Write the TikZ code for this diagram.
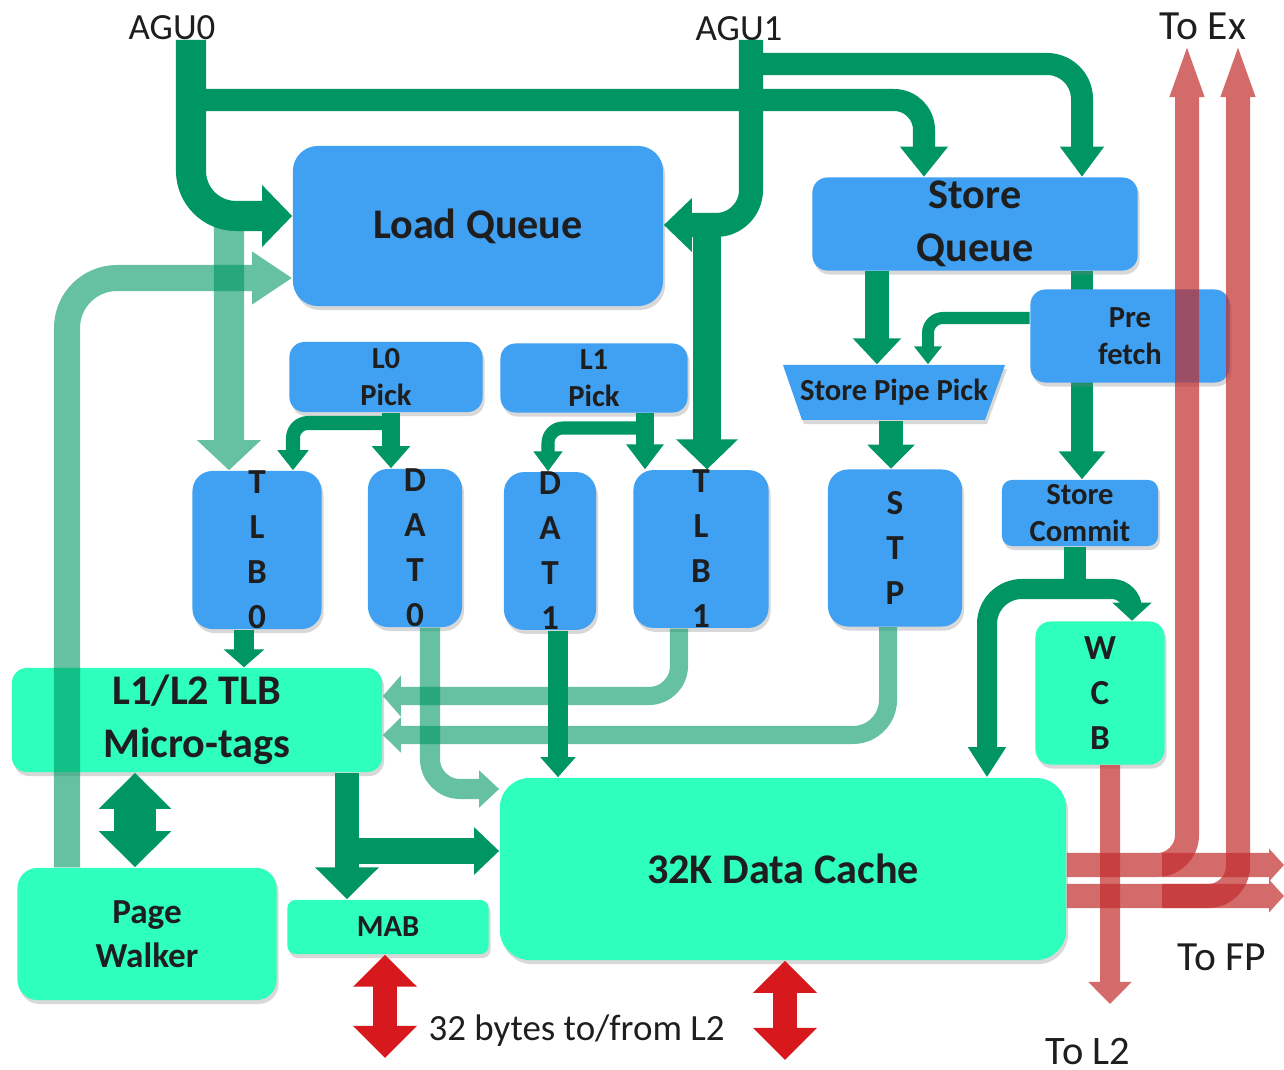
\documentclass[tikz,border=0pt]{standalone}
\usepackage{fontspec}
\setmainfont{Carlito}
\usetikzlibrary{arrows.meta, shadows, backgrounds}

\definecolor{unitblue}{RGB}{64,160,242}
\definecolor{unitteal}{RGB}{46,255,188}
\definecolor{flowgreen}{RGB}{0,150,100}
\definecolor{outred}{RGB}{195,45,45}
\definecolor{busred}{RGB}{215,25,30}
\definecolor{inkgray}{RGB}{30,30,30}

\tikzstyle{bluebox} = [rectangle, rounded corners=0.15cm, fill=unitblue, text=inkgray, align=center, inner sep=0pt, drop shadow={opacity=0.3, shadow xshift=0.02cm, shadow yshift=-0.04cm}]
\tikzstyle{tealbox} = [bluebox, fill=unitteal]
\tikzstyle{bigtext} = [font=\bfseries\fontsize{12}{15}\selectfont]
\tikzstyle{midtext} = [font=\bfseries\fontsize{10}{12.6}\selectfont]
\tikzstyle{lettertext} = [font=\bfseries\fontsize{10}{12.8}\selectfont]
\tikzstyle{smalltext} = [font=\bfseries\fontsize{8.7}{10.4}\selectfont]
\tikzstyle{iolabel} = [anchor=base, inner sep=0pt, text=inkgray, font=\fontsize{10.5}{12}\selectfont]
\tikzstyle{flow} = [draw=flowgreen, rounded corners=0.35cm]
\tikzstyle{outflow} = [draw=outred, rounded corners=0.3cm]
\tikzstyle{fadegroup} = [transparency group, opacity=0.6]
\tikzstyle{redgroup} = [transparency group, opacity=0.7]
\tikzset{tipsize/.style 2 args={-{Triangle[width=#1,length=#2]}}}
\tikzset{bothtips/.style 2 args={{Triangle[width=#1,length=#2]}-{Triangle[width=#1,length=#2]}}}

\begin{document}
\begin{tikzpicture}[x=0.01cm, y=-0.01cm]
\useasboundingbox (0,0) rectangle (1284,1070);
\begin{scope}[on background layer]
\fill[white] (0,0) rectangle (1284,1070);
\end{scope}

% Labels
\node[iolabel] (agu0) at (172,40) {AGU0};
\node[iolabel] (agu1) at (739,41) {AGU1};
\node[iolabel, font=\fontsize{11.8}{14}\selectfont] (toex) at (1203,40) {To Ex};
\node[iolabel, font=\fontsize{11.8}{14}\selectfont] (tofp) at (1222,970) {To FP};
\node[iolabel, font=\fontsize{11.5}{14}\selectfont] (tol2) at (1088,1064) {To L2};
\node[iolabel, anchor=base west] (bytes) at (428,1040) {32 bytes to/from L2};

% Load side
\node[bluebox, bigtext, rounded corners=0.25cm, minimum width=3.70cm, minimum height=1.60cm] (lq) at (478,226) {Load Queue};
\node[bluebox, smalltext, minimum width=1.93cm, minimum height=0.70cm] (lzp) at (386,377) {L0\\Pick};
\node[bluebox, smalltext, minimum width=1.87cm, minimum height=0.69cm] (lop) at (594,378) {L1\\Pick};
\node[bluebox, lettertext, rounded corners=0.2cm, minimum width=1.29cm, minimum height=1.57cm] (tlbz) at (257,550) {T\\L\\B\\0};
\node[bluebox, lettertext, rounded corners=0.2cm, minimum width=0.94cm, minimum height=1.58cm] (datz) at (415,548) {D\\A\\T\\0};
\node[bluebox, lettertext, rounded corners=0.2cm, minimum width=0.92cm, minimum height=1.55cm] (dato) at (550,551) {D\\A\\T\\1};
\node[bluebox, lettertext, rounded corners=0.2cm, minimum width=1.35cm, minimum height=1.57cm] (tlbo) at (701,549) {T\\L\\B\\1};

% Store side
\node[bluebox, bigtext, minimum width=3.25cm, minimum height=0.93cm] (sq) at (975,224) {Store\\Queue};
\node[bluebox, smalltext, rounded corners=0.1cm, minimum width=1.56cm, minimum height=0.66cm] (sc) at (1080,513) {Store\\Commit};
\begin{scope}[on background layer]
\draw[flow, line width=0.22cm, tipsize={0.45cm}{0.28cm}] (sq.south -| 1082,0) -- (sc.north -| 1082,0);
\end{scope}
\node[bluebox, smalltext, minimum width=1.99cm, minimum height=0.93cm] (pf) at (1130,336) {Pre\\fetch};
\fill[unitblue, drop shadow={opacity=0.3, shadow xshift=0.02cm, shadow yshift=-0.04cm}] (783,365) -- (1005,365) -- (985,420) -- (802,420) -- cycle;
\node[smalltext, text=inkgray, inner sep=0pt, minimum width=1.9cm, minimum height=0.55cm] (spp) at (894,392.5) {Store Pipe Pick};
\node[bluebox, lettertext, rounded corners=0.2cm, minimum width=1.34cm, minimum height=1.57cm] (stp) at (895,548) {S\\T\\P};
\node[tealbox, lettertext, minimum width=1.29cm, minimum height=1.43cm] (wcb) at (1100,693) {W\\C\\B};

% Lower blocks
\node[tealbox, bigtext, minimum width=3.70cm, minimum height=1.04cm] (mtag) at (197,720) {L1/L2 TLB\\Micro-tags};
\node[tealbox, midtext, rounded corners=0.2cm, minimum width=2.59cm, minimum height=1.32cm] (pw) at (147,934) {Page\\Walker};
\node[tealbox, smalltext, rounded corners=0.08cm, minimum width=2.01cm, minimum height=0.54cm] (mab) at (388,927) {MAB};
\node[tealbox, bigtext, rounded corners=0.3cm, minimum width=5.66cm, minimum height=1.82cm] (dc) at (783,869) {32K Data Cache};

% Free ends
\coordinate (a0top) at (191,40);
\coordinate (a1top) at (751,40);
\coordinate (lzpfork) at (391,423);
\coordinate (lopfork) at (645,428);
\coordinate (scfork) at (1075,589);
\coordinate (mtagfork) at (347,851);
\coordinate (fpforkA) at (1162,865);
\coordinate (fpforkB) at (1162,896);
\coordinate (exA) at (1187,42);
\coordinate (exB) at (1238,42);
\coordinate (fpA) at (1284,865);
\coordinate (fpB) at (1284,896);
\coordinate (l2out) at (1110,1004);
\coordinate (mabbus) at (385,1058);
\coordinate (dcbus) at (785,1060);

% AGU paths
\draw[flow, line width=0.30cm, tipsize={0.60cm}{0.30cm}, rounded corners=0.45cm] (a0top) |- (lq.west |- 0,216);
\draw[flow, line width=0.22cm, tipsize={0.46cm}{0.30cm}, rounded corners=0.3cm] (a0top |- 0,100) -| (sq.north -| 924,0);
\draw[flow, line width=0.24cm, tipsize={0.52cm}{0.28cm}] (a1top) |- (lq.east |- 0,225);
\draw[flow, line width=0.27cm, tipsize={0.60cm}{0.30cm}] (lq.east -| 707,0) -- (tlbo.north -| 707,0);
\draw[flow, line width=0.22cm, tipsize={0.42cm}{0.30cm}] (a1top |- 0,64) -| (sq.north -| 1082,0);
\begin{scope}[fadegroup]
\draw[flow, line width=0.30cm, tipsize={0.62cm}{0.30cm}] (lq.west -| 229,0) -- (tlbz.north -| 229,0);
\end{scope}
\begin{scope}[fadegroup]
\draw[flow, line width=0.26cm, tipsize={0.50cm}{0.40cm}, rounded corners=0.5cm] (pw.north -| 67,0) |- (lq.west |- 0,278);
\end{scope}

% Picks
\draw[flow, line width=0.18cm, tipsize={0.37cm}{0.22cm}] (lzp.south -| lzpfork) -- (datz.north -| lzpfork);
\draw[flow, line width=0.14cm, tipsize={0.30cm}{0.20cm}, rounded corners=0.15cm] (lzpfork) -| (tlbz.north -| 293,0);
\draw[flow, line width=0.18cm, tipsize={0.36cm}{0.25cm}] (lop.south -| lopfork) -- (tlbo.north -| lopfork);
\draw[flow, line width=0.13cm, tipsize={0.28cm}{0.20cm}, rounded corners=0.15cm] (lopfork) -| (dato.north -| 548,0);

% Store pipe
\draw[flow, line width=0.24cm, tipsize={0.47cm}{0.26cm}] (sq.south -| 877,0) -- (spp.north -| 877,0);
\draw[flow, line width=0.12cm, tipsize={0.27cm}{0.18cm}, rounded corners=0.15cm] (pf.west |- 0,318) -| (spp.north -| 928,0);
\draw[flow, line width=0.24cm, tipsize={0.46cm}{0.24cm}] (spp.south -| 891,0) -- (stp.north -| 891,0);
\draw[flow, line width=0.22cm] (sc.south -| scfork) -- (scfork);
\draw[flow, line width=0.20cm, tipsize={0.38cm}{0.18cm}, rounded corners=0.2cm] (scfork) -| (wcb.north -| 1132,0);
\draw[flow, line width=0.20cm, tipsize={0.36cm}{0.30cm}] (scfork) -| (dc.north -| 987,0);

% TLB paths
\draw[flow, line width=0.20cm, tipsize={0.40cm}{0.18cm}] (tlbz.south -| 244,0) -- (mtag.north -| 244,0);
\draw[flow, line width=0.42cm, bothtips={0.70cm}{0.36cm}] (mtag.south -| 135,0) -- (pw.north -| 135,0);
\draw[flow, line width=0.24cm, tipsize={0.62cm}{0.32cm}] (mtag.south -| mtagfork) -- (mab.north -| mtagfork);
\draw[flow, line width=0.26cm, tipsize={0.46cm}{0.25cm}] (mtagfork) -- (dc.west |- mtagfork);
\begin{scope}[fadegroup]
\draw[flow, line width=0.20cm, tipsize={0.36cm}{0.20cm}, rounded corners=0.3cm] (datz.south -| 430,0) |- (dc.west |- 0,789);
\end{scope}
\draw[flow, line width=0.20cm, tipsize={0.34cm}{0.20cm}] (dato.south -| 558,0) -- (dc.north -| 558,0);
\begin{scope}[fadegroup]
\draw[flow, line width=0.18cm, tipsize={0.40cm}{0.18cm}, rounded corners=0.3cm] (tlbo.south -| 679,0) |- (mtag.east |- 0,696);
\end{scope}
\begin{scope}[fadegroup]
\draw[flow, line width=0.18cm, tipsize={0.34cm}{0.18cm}] (stp.south -| 888,0) |- (mtag.east |- 0,735);
\end{scope}

% Outputs
\begin{scope}[redgroup]
\draw[outflow, line width=0.24cm, tipsize={0.30cm}{0.55cm}] (dc.east |- fpforkA) -| (exA);
\end{scope}
\begin{scope}[redgroup]
\draw[outflow, line width=0.24cm, tipsize={0.30cm}{0.55cm}] (dc.east |- fpforkB) -| (exB);
\end{scope}
\begin{scope}[redgroup]
\draw[outflow, line width=0.24cm, tipsize={0.32cm}{0.15cm}] (fpforkA) -- (fpA);
\end{scope}
\begin{scope}[redgroup]
\draw[outflow, line width=0.24cm, tipsize={0.32cm}{0.15cm}] (fpforkB) -- (fpB);
\end{scope}
\begin{scope}[redgroup]
\draw[outflow, line width=0.20cm, tipsize={0.42cm}{0.22cm}] (wcb.south -| l2out) -- (l2out);
\end{scope}
\draw[busred, line width=0.24cm, bothtips={0.62cm}{0.32cm}] (mab.south -| mabbus) -- (mabbus);
\draw[busred, line width=0.24cm, bothtips={0.62cm}{0.32cm}] (dc.south -| dcbus) -- (dcbus);

\end{tikzpicture}
\end{document}
